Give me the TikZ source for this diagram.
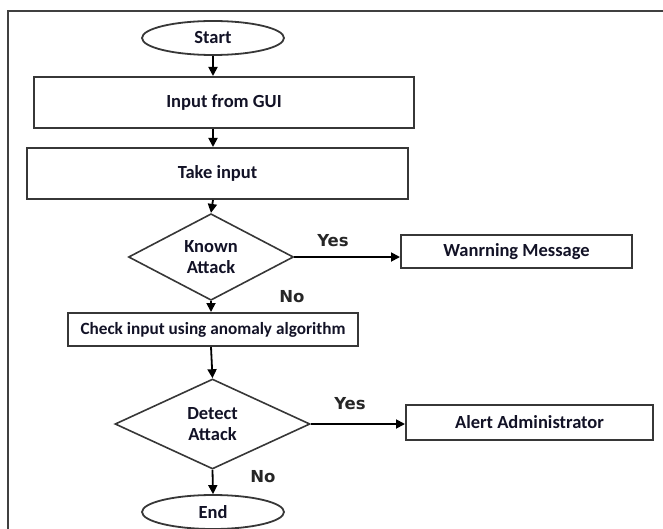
\documentclass[tikz,border=0pt]{standalone}
\usepackage{fontspec}
\setmainfont{Carlito}
\newfontfamily\labelfont{DejaVu Sans}
\usetikzlibrary{shapes.geometric,arrows.meta}
\definecolor{ink}{RGB}{18,18,38}
\definecolor{edge}{RGB}{55,55,55}
\tikzset{
  x=1pt, y=1pt,
  every node/.style={text=ink},
  boxtext/.style={font=\fontsize{18.5}{21}\selectfont\bfseries},
  procbox/.style={draw=edge, line width=2pt, rectangle, inner sep=0pt, boxtext},
  termnode/.style={draw=edge, line width=1.8pt, ellipse, inner sep=0pt,
    minimum width=142pt, minimum height=34pt, boxtext},
  decision/.style={draw=edge, line width=1.6pt, diamond, inner sep=0pt,
    align=center, boxtext},
  flow/.style={draw=black, line width=1.8pt, -{Triangle[length=9pt,width=9pt]}},
  answer/.style={font=\labelfont\fontsize{16.5}{18}\selectfont\bfseries, text=black!85},
}
\begin{document}
\begin{tikzpicture}
  % page extent and outer frame
  \useasboundingbox (0,0) rectangle (663,-529);
  \coordinate (frameTL) at (8,-11);
  \coordinate (frameTR) at (663,-11);
  \coordinate (frameBL) at (8,-529);
  \draw[line width=2.5pt, draw=black!75, line cap=rect] (frameTR) -- (frameTL) -- (frameBL);

  % flowchart nodes
  \node[termnode] (start) at (213,-38) {Start};
  \node[procbox, minimum width=380pt, minimum height=51pt] (gui) at (224,-102.5) {Input from GUI};
  \node[procbox, minimum width=381pt, minimum height=51pt] (take) at (217.5,-173.5) {Take input};
  \node[decision, minimum width=165pt, minimum height=74pt] (known) at (211,-257) {Known\\Attack};
  \node[procbox, minimum width=231pt, minimum height=33pt] (warn) at (516.5,-251.5) {Wanrning Message};
  \node[procbox, minimum width=290pt, minimum height=33pt,
        font=\fontsize{17.2}{20}\selectfont\bfseries] (check) at (213,-329.5) {Check input using anomaly algorithm};
  \node[decision, minimum width=195pt, minimum height=90pt] (detect) at (212.5,-424) {Detect\\Attack};
  \node[procbox, minimum width=247pt, minimum height=35pt] (alert) at (529.5,-422.5) {Alert Administrator};
  \node[termnode] (end) at (213,-512) {End};

  % branch labels
  \node[answer] (yes1) at (333,-241) {Yes};
  \node[answer] (no1) at (292,-297) {No};
  \node[answer] (yes2) at (350,-404) {Yes};
  \node[answer] (no2) at (263,-477) {No};

  % connectors
  \draw[flow] (start.south) -- (start.south |- gui.north);
  \draw[flow] (start.south |- gui.south) -- (start.south |- take.north);
  \draw[flow] (start.south |- take.south) -- (known.north);
  \draw[flow] (known.east) -- (known.east -| warn.west);
  \draw[flow] (known.south) -- (known.south |- check.north);
  \draw[flow] (known.south |- check.south) -- (detect.north);
  \draw[flow] (detect.east) -- (detect.east -| alert.west);
  \draw[flow] (detect.south) -- (end.north);
\end{tikzpicture}
\end{document}
